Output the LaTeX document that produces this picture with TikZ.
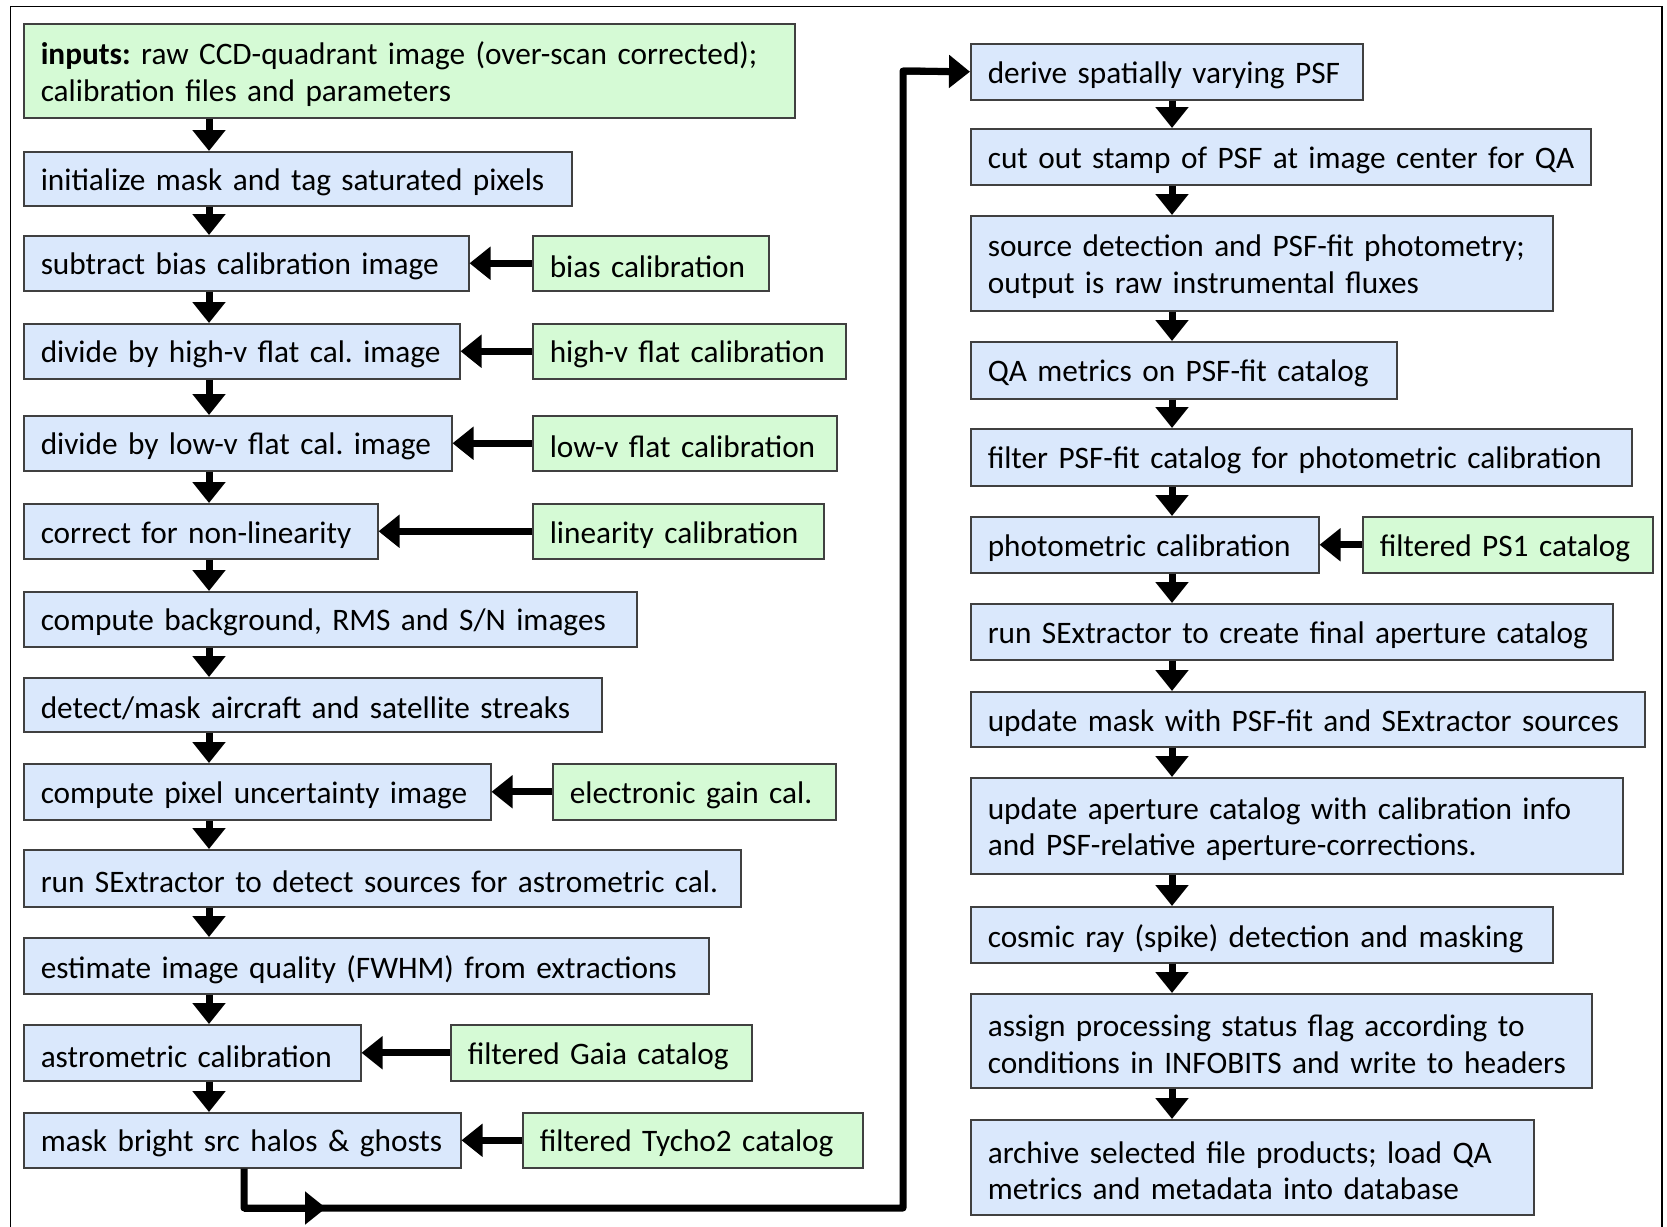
\documentclass[tikz,border=0pt]{standalone}
\usepackage{fontspec}
\setmainfont{Carlito}
\usetikzlibrary{arrows.meta}
\definecolor{bfill}{HTML}{DAE8FC}
\definecolor{gfill}{HTML}{D5FAD5}
\definecolor{bord}{HTML}{404040}
\newcommand\lowr[1]{\raisebox{-3.5pt}[\height][\depth]{\mbox{#1}}}
\newcommand\bx[7]{%
  \pgfmathsetmacro\bw{#4-#2}\pgfmathsetmacro\bh{#5-#3}\pgfmathsetmacro\tw{#4-#2-34}%
  \node[#6, minimum width=\bw pt, minimum height=\bh pt, text width=\tw pt] (#1) at (#2,#3) {\lowr{#7}};}
\newcommand\bxx[8]{%
  \pgfmathsetmacro\bw{#4-#2}\pgfmathsetmacro\bh{#5-#3}\pgfmathsetmacro\tw{#4-#2-34}%
  \node[#6, minimum width=\bw pt, minimum height=\bh pt, text width=\tw pt] (#1) at (#2,#3) {\lowr{#7}\\ \lowr{#8}};}
\begin{document}
\begin{tikzpicture}[x=1pt,y=-1pt,
  boxbase/.style={draw=bord, line width=1.5pt, inner xsep=17pt, inner ysep=0pt, align=left,
    font=\fontsize{31.3}{36.5}\selectfont\frenchspacing, anchor=north west},
  bluebox/.style={boxbase, fill=bfill},
  greenbox/.style={boxbase, fill=gfill},
  arr/.style={line width=7pt, -{Triangle[length=21pt,width=32pt]}},
  conn/.style={line width=7pt, line join=round}]
\useasboundingbox (0,0) rectangle (1667,1226);
\draw[line width=1.5pt] (10.5,6.5) rectangle (1662,1260);
% left column
\bxx{b1}{23}{23}{794}{117}{greenbox}{\textbf{inputs:} raw CCD-quadrant image (over-scan corrected);}{calibration files and parameters}
\bx{b2}{23}{151}{571}{205}{bluebox}{initialize mask and tag saturated pixels}
\bx{b3}{23}{235}{468}{290}{bluebox}{subtract bias calibration image}
\bx{g3}{532}{235}{768}{290}{greenbox}{bias calibration}
\bx{b4}{23}{323}{459}{378}{bluebox}{divide by high-v flat cal. image}
\bx{g4}{532}{323}{845}{378}{greenbox}{high-v flat calibration}
\bx{b5}{23}{415}{451}{470}{bluebox}{divide by low-v flat cal. image}
\bx{g5}{532}{415}{836}{470}{greenbox}{low-v flat calibration}
\bx{b6}{23}{503}{377}{558}{bluebox}{correct for non-linearity}
\bx{g6}{532}{503}{823}{558}{greenbox}{linearity calibration}
\bx{b7}{23}{591}{636}{646}{bluebox}{compute background, RMS and S/N images}
\bx{b8}{23}{677}{601}{731}{bluebox}{detect/mask aircraft and satellite streaks}
\bx{b9}{23}{763}{490}{819}{bluebox}{compute pixel uncertainty image}
\bx{g9}{552}{763}{835}{819}{greenbox}{electronic gain cal.}
\bx{b10}{23}{849}{740}{906}{bluebox}{run SExtractor to detect sources for astrometric cal.}
\bx{b11}{23}{937}{708}{993}{bluebox}{estimate image quality (FWHM) from extractions}
\bx{b12}{23}{1024}{360}{1080}{bluebox}{astrometric calibration}
\bx{g12}{450}{1024}{751}{1080}{greenbox}{filtered Gaia catalog}
\bx{b13}{23}{1112}{460}{1167}{bluebox}{mask bright src halos \& ghosts}
\bx{g13}{522}{1112}{862}{1167}{greenbox}{filtered Tycho2 catalog}
% right column
\bx{r1}{970}{43}{1362}{99}{bluebox}{derive spatially varying PSF}
\bx{r2}{970}{128}{1590}{184}{bluebox}{cut out stamp of PSF at image center for QA}
\bxx{r3}{970}{215}{1552}{310}{bluebox}{source detection and PSF-fit photometry;}{output is raw instrumental fluxes}
\bx{r4}{970}{341}{1396}{398}{bluebox}{QA metrics on PSF-fit catalog}
\bx{r5}{970}{428}{1631}{485}{bluebox}{filter PSF-fit catalog for photometric calibration}
\bx{r6}{970}{516}{1318}{572}{bluebox}{photometric calibration}
\bx{gr6}{1362}{516}{1652}{572}{greenbox}{filtered PS1 catalog}
\bx{r7}{970}{603}{1612}{659}{bluebox}{run SExtractor to create final aperture catalog}
\bx{r8}{970}{691}{1644}{746}{bluebox}{update mask with PSF-fit and SExtractor sources}
\bxx{r9}{970}{777}{1622}{873}{bluebox}{update aperture catalog with calibration info}{and PSF-relative aperture-corrections.}
\bx{r10}{970}{906}{1552}{962}{bluebox}{cosmic ray (spike) detection and masking}
\bxx{r11}{970}{993}{1591}{1087}{bluebox}{assign processing status flag according to}{conditions in INFOBITS and write to headers}
\bxx{r12}{970}{1119}{1533}{1214}{bluebox}{archive selected file products; load QA}{metrics and metadata into database}
% column coordinates
\coordinate (L) at (209,0);
\coordinate (R) at (1172,0);
\foreach \a/\b in {b1/b2,b2/b3,b3/b4,b4/b5,b5/b6,b6/b7,b7/b8,b8/b9,b9/b10,b10/b11,b11/b12,b12/b13}
  \draw[arr] (\a.south -| L) -- (\b.north -| L);
\foreach \a/\b in {r1/r2,r2/r3,r3/r4,r4/r5,r5/r6,r6/r7,r7/r8,r8/r9,r9/r10,r10/r11,r11/r12}
  \draw[arr] (\a.south -| R) -- (\b.north -| R);
\foreach \g/\b in {g3/b3,g4/b4,g5/b5,g6/b6,g9/b9,g12/b12,g13/b13,gr6/r6}
  \draw[arr] (\g.west) -- (\b.east);
% long connector
\coordinate (c0) at (244,1167);
\coordinate (c1) at (244,1208);
\coordinate (cm) at (326,1208);
\coordinate (c2) at (903,1208);
\coordinate (c3) at (903,71);
\draw[conn] (b13.south -| c0) -- (c1) -- (c2) -- (c3) -- ([xshift=-15pt]r1.west);
\draw[arr] (c3) -- (r1.west);
\draw[arr] (c1) -- (cm);
\end{tikzpicture}
\end{document}
